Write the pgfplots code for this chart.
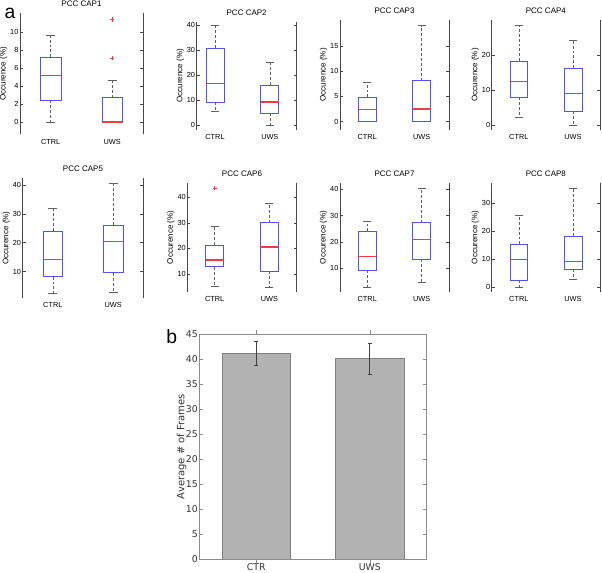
\documentclass[border=0pt]{standalone}
\usepackage{fontspec}
\setmainfont{Liberation Sans}
\newfontfamily\dejavu{DejaVu Sans}
\usepackage{pgfplots}
\pgfplotsset{compat=1.18}
\usepgfplotslibrary{statistics}

\definecolor{boxblue}{RGB}{80,80,255}
\definecolor{whisk}{RGB}{95,95,95}
\definecolor{axgray}{RGB}{70,70,70}
\definecolor{medred}{RGB}{240,60,60}

\pgfplotsset{
  bpaxis/.style={
    scale only axis, anchor=south west,
    xmin=0.5, xmax=2.5,
    xtick={1,2}, xticklabels={CTRL,UWS},
    separate axis lines,
    x axis line style={draw=none},
    y axis line style={draw=axgray, line width=0.5pt},
    xtick style={draw=none},
    ytick style={draw=axgray, line width=0.4pt},
    major tick length=2.2pt,
    tick align=inside,
    yticklabel pos=left,
    /pgf/number format/assume math mode=true,
    yticklabel style={font=\fontsize{5.5}{6}\selectfont, inner sep=1pt},
    xticklabel style={font=\fontsize{5.5}{6}\selectfont},
    every axis title shift=0pt,
    title style={font=\fontsize{6}{7}\selectfont, at={(0.5,1)}, anchor=base, yshift=5pt},
    ylabel={Occurence (\%)},
    ylabel style={font=\fontsize{6}{7}\selectfont, inner sep=1pt},
    clip=false,
  },
  boxplot/draw direction=y,
  boxplot/box extend=0.33,
  boxplot/whisker extend=0.15,
  boxplot/draw/box/.code={%
    \draw[boxblue, line width=0.55pt]
      (boxplot box cs:\pgfplotsboxplotvalue{lower quartile},0) rectangle
      (boxplot box cs:\pgfplotsboxplotvalue{upper quartile},1);
  },
  boxplot/draw/median/.code={%
    \draw[medred, line width=1pt]
      (boxplot box cs:\pgfplotsboxplotvalue{median},0) --
      (boxplot box cs:\pgfplotsboxplotvalue{median},1);
  },
  boxplot/draw/lower whisker/.code={%
    \draw[whisk, line width=0.45pt, dash pattern=on 2.2pt off 1.5pt]
      (boxplot box cs:\pgfplotsboxplotvalue{lower quartile},0.5) --
      (boxplot box cs:\pgfplotsboxplotvalue{lower whisker},0.5);
    \draw[whisk, line width=0.45pt]
      (boxplot whisker cs:\pgfplotsboxplotvalue{lower whisker},0) --
      (boxplot whisker cs:\pgfplotsboxplotvalue{lower whisker},1);
  },
  boxplot/draw/upper whisker/.code={%
    \draw[whisk, line width=0.45pt, dash pattern=on 2.2pt off 1.5pt]
      (boxplot box cs:\pgfplotsboxplotvalue{upper quartile},0.5) --
      (boxplot box cs:\pgfplotsboxplotvalue{upper whisker},0.5);
    \draw[whisk, line width=0.45pt]
      (boxplot whisker cs:\pgfplotsboxplotvalue{upper whisker},0) --
      (boxplot whisker cs:\pgfplotsboxplotvalue{upper whisker},1);
  },
  bx/.style={draw=boxblue},
  outl/.style={only marks, mark=+, mark size=1.6pt, medred, mark options={line width=0.6pt}},
}

\begin{document}
\begin{tikzpicture}
\useasboundingbox (0,0) rectangle (451.5pt,429.75pt);

% ---- Panel 1
\begin{axis}[bpaxis, at={(15pt,329pt)}, width=92.25pt, height=90.75pt,
  ymin=-1.37, ymax=12.1, ytick={0,2,...,10}, title={PCC CAP1}]
\addplot[bx, boxplot prepared={draw position=1, lower whisker=0, lower quartile=2.4, median=5.2, upper quartile=7.2, upper whisker=9.7}] coordinates {};
\addplot[bx, boxplot prepared={draw position=2, lower whisker=0, lower quartile=0, median=0, upper quartile=2.7, upper whisker=4.6}] coordinates {};
\addplot[outl] coordinates {(2,7.1) (2,11.4)};
\end{axis}

% ---- Panel 2
\begin{axis}[bpaxis, at={(147.5pt,332.25pt)}, width=75pt, height=81.2pt,
  xmin=0.665, xmax=2.49,
  ymin=-2, ymax=41.3, ytick={0,10,...,40}, title={PCC CAP2}]
\addplot[bx, boxplot prepared={draw position=1, lower whisker=5.3, lower quartile=9.2, median=16.5, upper quartile=30.8, upper whisker=39.8}] coordinates {};
\addplot[bx, boxplot prepared={draw position=2, lower whisker=0, lower quartile=4.7, median=9.2, upper quartile=16, upper whisker=25.2}] coordinates {};
\end{axis}

% ---- Panel 3
\begin{axis}[bpaxis, at={(255pt,332.25pt)}, width=81.75pt, height=82.5pt,
  ymin=-1.64, ymax=20.1, ytick={0,5,10,15}, title={PCC CAP3}]
\addplot[bx, boxplot prepared={draw position=1, lower whisker=0, lower quartile=0, median=2.4, upper quartile=4.8, upper whisker=7.8}] coordinates {};
\addplot[bx, boxplot prepared={draw position=2, lower whisker=0, lower quartile=0, median=2.5, upper quartile=8.1, upper whisker=19}] coordinates {};
\end{axis}

% ---- Panel 4
\begin{axis}[bpaxis, at={(368.8pt,332.25pt)}, width=81.2pt, height=82.5pt,
  ymin=-1.43, ymax=30, ytick={0,10,20}, title={PCC CAP4}]
\addplot[bx, boxplot prepared={draw position=1, lower whisker=2.2, lower quartile=7.9, median=12.5, upper quartile=18.2, upper whisker=28.5}] coordinates {};
\addplot[bx, boxplot prepared={draw position=2, lower whisker=0, lower quartile=4, median=9, upper quartile=16.2, upper whisker=24.3}] coordinates {};
\end{axis}

% ---- Panel 5
\begin{axis}[bpaxis, at={(17pt,206.25pt)}, width=90.45pt, height=89.8pt,
  ymin=0.9, ymax=42.3, ytick={10,20,30,40}, title={PCC CAP5}]
\addplot[bx, boxplot prepared={draw position=1, lower whisker=2.5, lower quartile=8.3, median=14.3, upper quartile=24, upper whisker=31.8}] coordinates {};
\addplot[bx, boxplot prepared={draw position=2, lower whisker=2.9, lower quartile=9.6, median=20.5, upper quartile=26, upper whisker=40.5}] coordinates {};
\end{axis}

% ---- Panel 6
\begin{axis}[bpaxis, at={(140.5pt,211pt)}, width=82pt, height=81.3pt,
  ymin=3.07, ymax=45.5, ytick={10,20,30,40}, title={PCC CAP6}]
\addplot[bx, boxplot prepared={draw position=1, lower whisker=5.3, lower quartile=12.8, median=15.5, upper quartile=21.3, upper whisker=28.7}] coordinates {};
\addplot[bx, boxplot prepared={draw position=2, lower whisker=4.6, lower quartile=11, median=20.5, upper quartile=30, upper whisker=37.5}] coordinates {};
\addplot[outl] coordinates {(1,43.6)};
\end{axis}

% ---- Panel 7
\begin{axis}[bpaxis, at={(255pt,211pt)}, width=81.75pt, height=81.3pt,
  ymin=1.1, ymax=42.3, ytick={10,20,30,40}, title={PCC CAP7}]
\addplot[bx, boxplot prepared={draw position=1, lower whisker=2.7, lower quartile=9.2, median=14.5, upper quartile=24, upper whisker=27.8}] coordinates {};
\addplot[bx, boxplot prepared={draw position=2, lower whisker=4.8, lower quartile=13.3, median=21, upper quartile=27.3, upper whisker=40.3}] coordinates {};
\end{axis}

% ---- Panel 8
\begin{axis}[bpaxis, at={(368.8pt,211pt)}, width=81.2pt, height=81.3pt,
  ymin=-1.57, ymax=37.1, ytick={0,10,20,30}, title={PCC CAP8}]
\addplot[bx, boxplot prepared={draw position=1, lower whisker=0, lower quartile=2.5, median=10, upper quartile=15.3, upper whisker=25.5}] coordinates {};
\addplot[bx, boxplot prepared={draw position=2, lower whisker=2.7, lower quartile=6.5, median=9.3, upper quartile=18.2, upper whisker=35.3}] coordinates {};
\end{axis}

% ---- Bar chart b
\begin{axis}[at={(149.5pt,10.5pt)}, anchor=south west, scale only axis,
  width=170.5pt, height=168.5pt,
  xmin=0.5, xmax=2.5, ymin=0, ymax=45, ytick={0,5,...,45},
  xtick={1,2}, xticklabels={CTR,UWS},
  axis line style={draw=black!45}, tick style={draw=black!45},
  major tick length=3pt, tick align=inside,
  /pgf/number format/assume math mode=true,
  ticklabel style={font=\dejavu\fontsize{7}{8}\selectfont, text=black!80},
  xticklabel style={inner sep=0.5pt},
  yticklabel style={inner sep=1pt},
  ylabel={Average \# of Frames},
  ylabel shift=-5pt,
  ylabel style={font=\dejavu\fontsize{7.5}{9}\selectfont, text=black!80},
  ybar, bar width=0.6]
\addplot[fill=black!30, draw=black!50, line width=0.5pt,
  error bars/.cd, y dir=both, y explicit,
  error bar style={black!75, line width=0.6pt},
  error mark options={rotate=90, mark size=1.5pt, black!75, line width=0.6pt}]
  coordinates {(1,41.2) +- (0,2.35) (2,40.1) +- (0,3.1)};
\end{axis}

\node[font=\fontsize{14.5}{16}\selectfont] at (7.5pt,420pt) {a};
\node[font=\fontsize{14.5}{16}\selectfont] at (128.8pt,177pt) {b};
\end{tikzpicture}
\end{document}
